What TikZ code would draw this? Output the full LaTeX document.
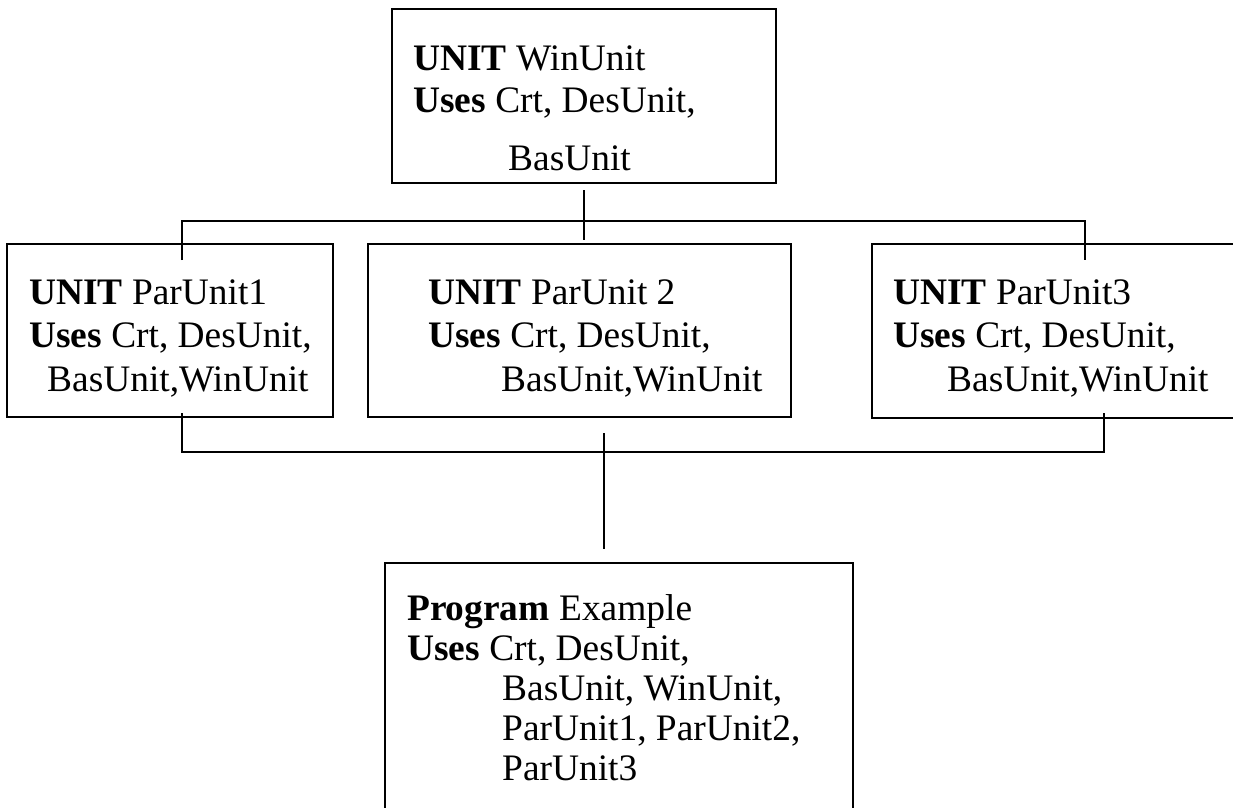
\documentclass[tikz,border=0pt]{standalone}
\usepackage{fontspec}
\setmainfont{Liberation Serif}
\begin{document}
\begin{tikzpicture}[x=1pt,y=-1pt,
  box/.style={draw=black,line width=1.6pt,inner sep=0pt},
  conn/.style={draw=black,line width=1.6pt},
  txt/.style={anchor=base west,inner sep=0pt,font=\fontsize{37.4}{44}\selectfont}]
\useasboundingbox (0,0) rectangle (1233,807);
\fill[white] (0,0) rectangle (1233,807);
\clip (0,0) rectangle (1233,807);
% boxes
\draw[box] (392,9) rectangle (776,183);
\node[inner sep=0pt] (top) at (584,96) {};
\draw[box] (7,244) rectangle (333,417);
\draw[box] (368,244) rectangle (791,417);
\draw[box] (872,244) rectangle (1270,418);
\draw[box] (385,563) rectangle (853,850);
% texts
\node[txt] (t1) at (413,70) {\textbf{UNIT} WinUnit};
\node[txt] (t2) at (413,112) {\textbf{Uses} Crt, DesUnit,};
\node[txt] (t3) at (508,170) {BasUnit};
\node[txt] (l1) at (29,304) {\textbf{UNIT} ParUnit1};
\node[txt] (l2) at (29,347) {\textbf{Uses} Crt, DesUnit,};
\node[txt] (l3) at (47,391) {BasUnit,WinUnit};
\node[txt] (m1) at (428,304) {\textbf{UNIT} ParUnit 2};
\node[txt] (m2) at (428,347) {\textbf{Uses} Crt, DesUnit,};
\node[txt] (m3) at (501,391) {BasUnit,WinUnit};
\node[txt] (r1) at (893,304) {\textbf{UNIT} ParUnit3};
\node[txt] (r2) at (893,347) {\textbf{Uses} Crt, DesUnit,};
\node[txt] (r3) at (947,391) {BasUnit,WinUnit};
\node[txt] (b1) at (407,620) {\textbf{Program} Example};
\node[txt] (b2) at (407,660) {\textbf{Uses} Crt, DesUnit,};
\node[txt] (b3) at (502,700) {BasUnit, WinUnit,};
\node[txt] (b4) at (502,740) {ParUnit1, ParUnit2,};
\node[txt] (b5) at (502,780) {ParUnit3};
% connector coordinates
\coordinate (ts1) at (584,190);
\coordinate (ts2) at (584,240);
\coordinate (ua) at (182,260);
\coordinate (ub) at (182,221);
\coordinate (uc) at (1085,221);
\coordinate (ud) at (1085,260);
\coordinate (la) at (182,413);
\coordinate (lb) at (182,452);
\coordinate (lc) at (1104,452);
\coordinate (ld) at (1104,413);
\coordinate (ms1) at (604,433);
\coordinate (ms2) at (604,549);
\draw[conn] (ts1) -- (ts2);
\draw[conn] (ua) -- (ub) -- (uc) -- (ud);
\draw[conn] (la) -- (lb) -- (lc) -- (ld);
\draw[conn] (ms1) -- (ms2);
\end{tikzpicture}
\end{document}
